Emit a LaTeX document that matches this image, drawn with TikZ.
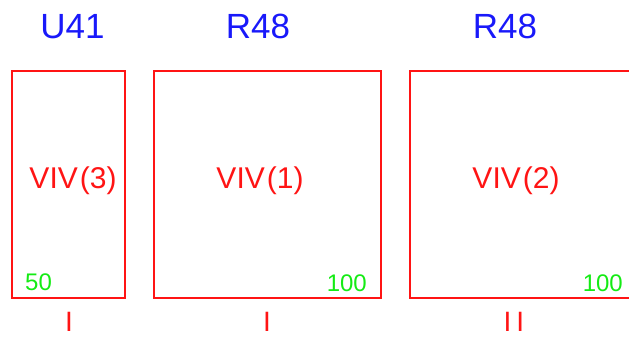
\documentclass[tikz,border=0pt]{standalone}
\usepackage{fontspec}
\setmainfont{Liberation Sans}
\definecolor{lblblue}{RGB}{25,25,250}
\definecolor{boxred}{RGB}{255,20,20}
\definecolor{numgreen}{RGB}{20,235,20}
\begin{document}
\begin{tikzpicture}[x=1pt,y=-1pt,
  box/.style={draw=boxred,line width=1.4pt},
  toplabel/.style={text=lblblue,font=\fontsize{35}{40}\selectfont,anchor=base,inner sep=0pt},
  vivlabel/.style={text=boxred,font=\fontsize{30}{34}\selectfont,anchor=base,inner sep=0pt},
  numlabel/.style={text=numgreen,font=\fontsize{24}{28}\selectfont,inner sep=0pt},
  romlabel/.style={text=boxred,font=\fontsize{28}{32}\selectfont,anchor=base,inner sep=0pt}]
\useasboundingbox (0,0) rectangle (629,337);
\begin{scope}
\clip (0,0) rectangle (629,337);
\draw[box] (12,71) rectangle (125,298);
\draw[box] (154,71) rectangle (381,298);
\draw[box] (410,71) rectangle (640,298);
\end{scope}
\node[toplabel] (t1) at (72.5,39) {U41};
\node[toplabel] (t2) at (258,39) {R48};
\node[toplabel] (t3) at (505,39) {R48};
\node[vivlabel] (v3) at (73,188) {VIV\kern2pt(3)};
\node[vivlabel] (v1) at (260,188) {VIV\kern2pt(1)};
\node[vivlabel] (v2) at (516,188) {VIV\kern2pt(2)};
\node[numlabel,anchor=base west] (n1) at (25,290) {50};
\node[numlabel,anchor=base east] (n2) at (367,291) {100};
\node[numlabel,anchor=base east] (n3) at (623,291) {100};
\node[romlabel] (r1) at (69,331) {I};
\node[romlabel] (r2) at (267,331) {I};
\node[romlabel] (r3) at (514,331) {I\kern5pt I};
\end{tikzpicture}
\end{document}
